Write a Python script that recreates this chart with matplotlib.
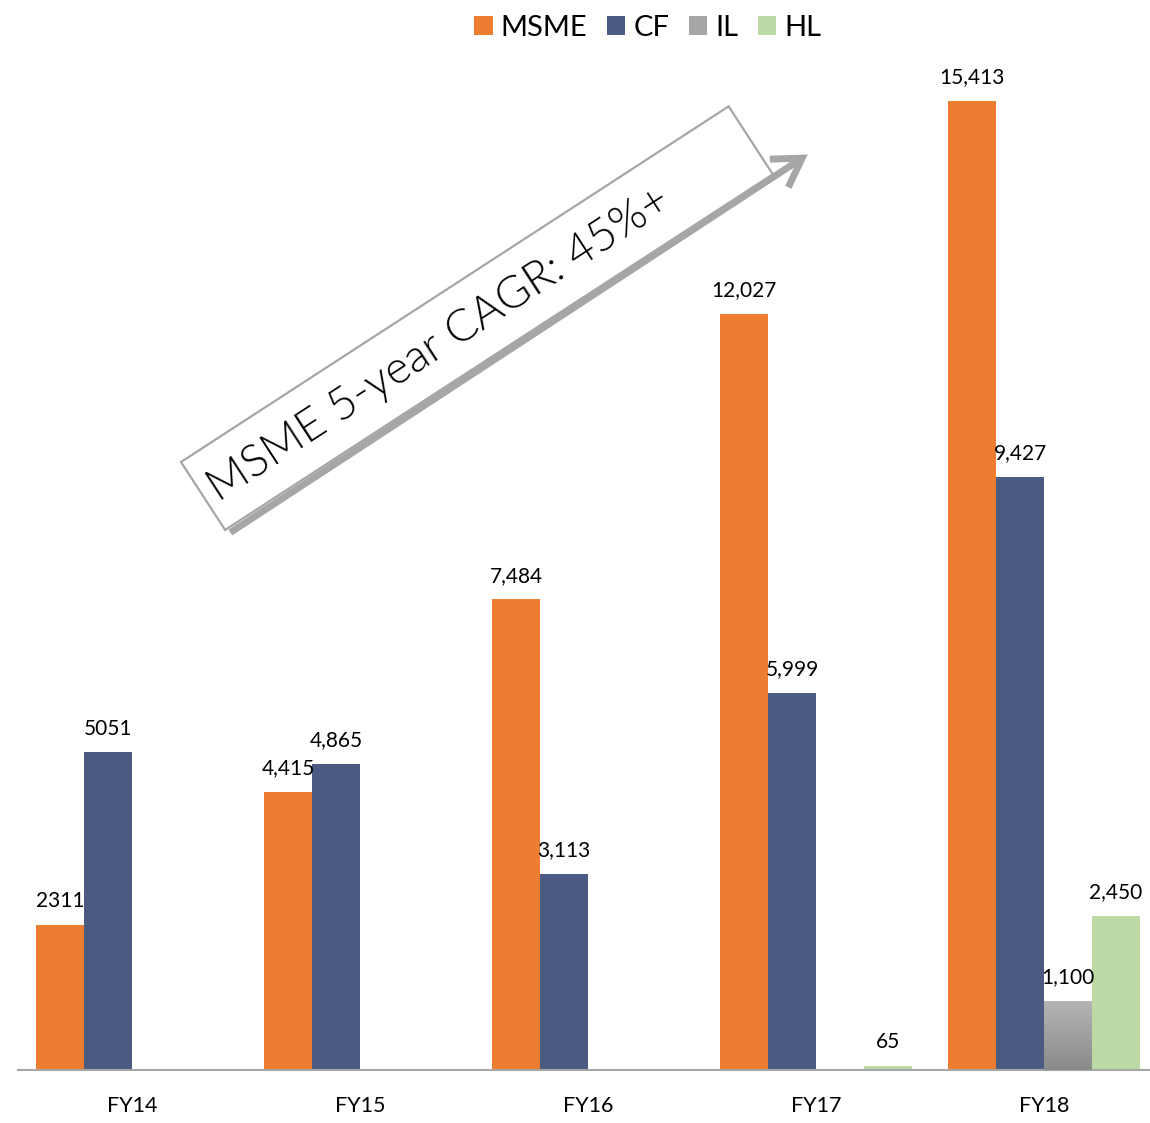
import numpy as np
import matplotlib
matplotlib.use("Agg")
import matplotlib.pyplot as plt
from matplotlib.patches import Polygon, FancyArrowPatch, Patch
from matplotlib.colors import LinearSegmentedColormap

plt.rcParams['font.family'] = ['Lato', 'DejaVu Sans']

# ---- data ----
categories = ["FY14", "FY15", "FY16", "FY17", "FY18"]
series_names = ["MSME", "CF", "IL", "HL"]
msme = [2311, 4415, 7484, 12027, 15413]
cf = [5051, 4865, 3113, 5999, 9427]
il = [np.nan, np.nan, np.nan, np.nan, 1100]
hl = [np.nan, np.nan, np.nan, 65, 2450]
use_comma = [False, True, True, True, True]
annotation_text = "MSME 5-year CAGR: 45%+"

colors = ["#ED7D31", "#4A5A82", "#A6A6A6", "#BBDAA6"]

W, H = 1150, 1123
dpi = 100
fig = plt.figure(figsize=(W / dpi, H / dpi), dpi=dpi)

# axes: baseline at y=1070 px, left at x=18 px, category width 228 px
left_px, base_px, top_px = 18, 1070, 0
cat_w = 228
ax = fig.add_axes([left_px / W, 1 - base_px / H, (W - left_px) / W, (base_px - top_px) / H])
ymax = (base_px - top_px) / (969 / 15413)
ax.set_ylim(0, ymax)
ax.set_xlim(-0.5, -0.5 + (W - left_px) / cat_w)

x = np.arange(len(categories))
bw = 48 / cat_w
all_series = [msme, cf, il, hl]
offsets = [-1.5, -0.5, 0.5, 1.5]
cmap = LinearSegmentedColormap.from_list("g", ["#8A8A8A", "#B5B5B5"])

for si, (vals, off, col) in enumerate(zip(all_series, offsets, colors)):
    v = np.array(vals, dtype=float)
    bars = ax.bar(x + off * bw, np.nan_to_num(v), width=bw, color=col, edgecolor='none', zorder=2)
    for i, (b, val) in enumerate(zip(bars, v)):
        if np.isnan(val):
            b.set_visible(False)
            continue
        if si == 2:
            grad = np.linspace(0, 1, 256).reshape(-1, 1)
            im = ax.imshow(grad, cmap=cmap, aspect='auto', origin='lower',
                           extent=[b.get_x(), b.get_x() + b.get_width(), 0, val], zorder=3)
            im.set_clip_path(b)
        txt = f"{int(val):,}" if use_comma[i] else f"{int(val)}"
        ax.annotate(txt, (b.get_x() + b.get_width() / 2, val), xytext=(0, 10),
                    textcoords='offset points', ha='center', va='bottom',
                    fontsize=15, color='#000000', zorder=5)

ax.set_xticks(x)
ax.set_xticklabels(categories, fontsize=15.5)
ax.tick_params(axis='x', length=0, pad=19)
ax.set_yticks([])
for s in ['top', 'right', 'left']:
    ax.spines[s].set_visible(False)
ax.spines['bottom'].set_color('#A6A6A6')
ax.spines['bottom'].set_linewidth(1.5)
ax.set_facecolor('none')

# legend
handles = [Patch(facecolor=c, edgecolor='none') for c in colors]
fig.legend(handles, series_names, loc='center', bbox_to_anchor=(648 / W, 1 - 28 / H),
           ncol=4, frameon=False, fontsize=21, handlelength=0.62, handleheight=0.62,
           handletextpad=0.28, columnspacing=0.68)

# annotation overlay in pixel coordinates
ov = fig.add_axes([0, 0, 1, 1])
ov.set_xlim(0, W)
ov.set_ylim(H, 0)
ov.axis('off')
ov.patch.set_alpha(0)

ang = np.deg2rad(33)
u = np.array([np.cos(ang), -np.sin(ang)])
vv = np.array([np.sin(ang), np.cos(ang)])
P0 = np.array([181.0, 462.0])
L, Hb = 653, 81
P1 = P0 + L * u
P3 = P0 + Hb * vv
P2 = P1 + Hb * vv
ov.add_patch(FancyArrowPatch((228, 534), (810, 153), arrowstyle='->,head_length=0.9,head_width=0.55',
                             mutation_scale=22, color='#A6A6A6', lw=5, capstyle='butt',
                             joinstyle='miter', zorder=1))
ov.add_patch(Polygon([P0, P1, P2, P3], closed=True, facecolor='white', edgecolor='#A6A6A6',
                     lw=1.6, zorder=2))

# fit annotation text to the target length along the box
renderer = fig.canvas.get_renderer()
probe = ov.text(0, 0, annotation_text, fontsize=30, fontweight=300)
wpx = probe.get_window_extent(renderer).width
probe.remove()
fs = 30 * 540 / wpx
center = P0 + 280 * u + 42 * vv
ov.text(center[0], center[1], annotation_text, rotation=33, rotation_mode='anchor',
        ha='center', va='center', fontsize=fs, fontweight=300, color='#000000', zorder=3)

fig.savefig("out.png", dpi=dpi)
